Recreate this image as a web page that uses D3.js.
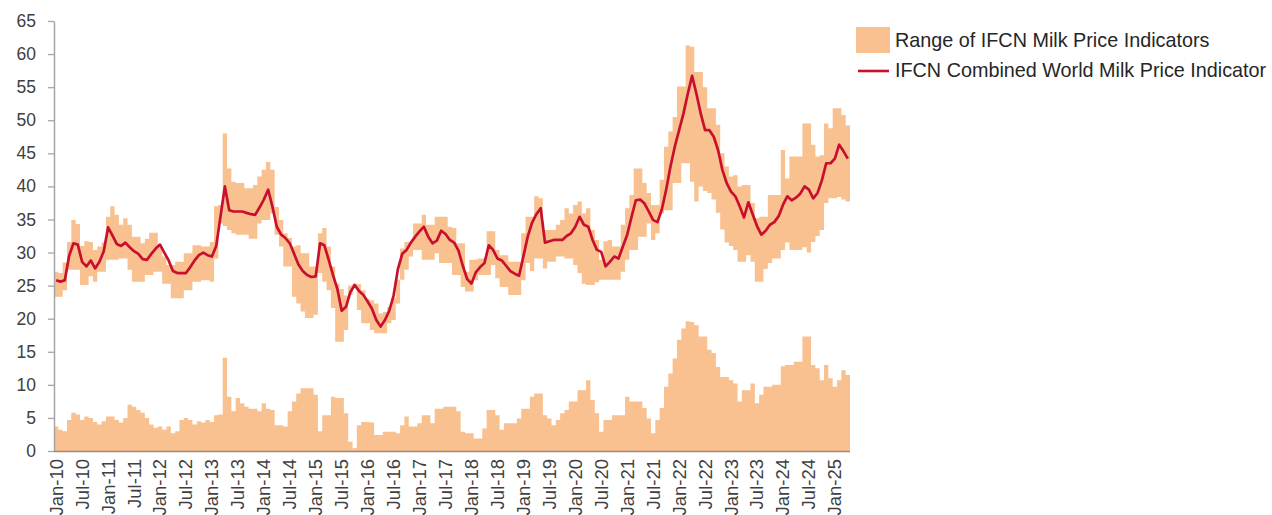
<!DOCTYPE html>
<html><head><meta charset="utf-8">
<script src="https://cdn.jsdelivr.net/npm/d3@7"></script>
<style>body{margin:0;background:#fff}svg{display:block}</style>
</head><body>
<svg id="chart" width="1272" height="515"></svg>
<script>
// ---- categories: monthly, Jan-10 .. Apr-25 (184 months)
const monthNames = ["Jan","Feb","Mar","Apr","May","Jun","Jul","Aug","Sep","Oct","Nov","Dec"];
const categories = [];
for (let yr = 2010; categories.length < 184; yr++)
  for (let m = 0; m < 12 && categories.length < 184; m++)
    categories.push(monthNames[m] + "-" + String(yr).slice(2));

// ---- IFCN Combined World Milk Price Indicator
const combinedIndicator = [
 25.8,25.6,25.8,29.5,31.4,31.2,28.6,27.9,28.8,27.6,28.6,30.2,
 33.8,32.6,31.3,31.0,31.5,30.8,30.2,29.8,29.0,28.9,29.8,30.6,
 31.2,30.0,28.8,27.2,26.9,26.9,26.9,27.8,28.8,29.6,30.0,29.6,
 29.4,31.0,35.5,40.0,36.4,36.2,36.2,36.2,36.0,35.8,35.7,36.8,
 38.0,39.5,36.9,33.9,32.7,32.2,31.4,29.8,28.2,27.2,26.6,26.3,
 26.4,31.4,31.1,28.9,26.6,24.5,21.2,21.8,24.0,25.1,24.2,23.6,
 22.6,21.5,19.8,18.8,19.8,21.2,23.5,27.5,29.8,30.4,31.5,32.4,
 33.2,33.9,32.4,31.4,31.8,33.3,32.8,31.9,31.5,30.3,28.0,26.0,
 25.3,27.0,27.8,28.4,31.1,30.4,29.1,28.8,28.0,27.2,26.8,26.5,
 29.4,32.4,34.5,35.8,36.7,31.5,31.7,31.9,31.9,31.9,32.5,32.9,
 33.9,35.4,34.2,33.9,31.9,30.4,30.1,27.9,28.6,29.4,29.1,30.9,
 32.7,35.4,37.9,38.0,37.4,36.2,34.9,34.6,36.5,39.5,43.0,46.0,
 48.5,51.0,54.0,56.7,54.0,51.0,48.5,48.5,47.5,45.5,42.5,40.5,
 39.2,38.5,37.0,35.3,37.6,35.8,34.0,32.7,33.3,34.2,34.6,35.5,
 37.2,38.5,37.9,38.3,38.9,40.0,39.5,38.2,39.0,40.9,43.5,43.5,
 44.2,46.3,45.3,44.2
];

// ---- Range of IFCN Milk Price Indicators: upper and lower bound
const rangeHigh = [
 27.1,26.9,28.5,31.6,34.9,34.3,31.0,31.7,31.6,30.4,30.9,31.5,
 35.4,37.0,35.7,34.2,35.2,34.2,32.4,32.4,31.4,32.1,33.0,33.0,
 31.1,29.4,28.1,28.1,28.6,28.6,29.9,29.9,31.1,31.1,30.9,30.9,
 31.6,37.0,37.2,48.0,42.7,40.7,40.5,40.5,39.7,39.7,40.2,41.5,
 42.5,43.7,42.5,36.9,34.9,32.9,32.2,30.9,31.1,29.9,29.9,27.9,
 27.9,32.9,33.7,30.9,27.9,25.3,24.5,23.5,25.0,25.3,25.2,24.3,
 23.0,22.8,22.3,20.8,21.0,21.8,23.1,25.9,30.6,31.6,31.6,34.4,
 34.4,35.7,34.2,34.2,35.4,35.4,35.4,33.9,33.7,31.4,31.4,27.1,
 28.9,28.9,29.1,29.1,33.2,33.2,30.4,29.6,29.6,28.6,28.6,28.6,
 32.9,35.4,35.4,38.5,38.2,33.4,33.4,33.4,34.2,34.9,36.7,35.9,
 37.2,37.7,35.9,36.7,33.4,31.9,28.9,31.7,31.9,30.9,30.9,34.2,
 36.7,38.7,42.7,42.7,40.5,39.0,37.2,37.2,41.0,46.0,48.3,50.5,
 55.1,55.1,61.3,61.1,57.3,57.3,55.0,51.8,51.8,49.3,45.0,43.0,
 41.5,41.7,40.0,40.2,40.2,37.5,35.2,35.4,35.4,38.7,38.7,38.7,
 45.5,41.2,44.5,44.5,44.5,49.5,49.5,46.3,44.5,44.7,49.5,48.8,
 51.8,51.8,50.8,49.2
];
const rangeLow = [
 23.3,23.3,24.3,27.4,27.4,27.4,25.1,25.1,26.4,25.6,27.1,27.1,
 28.9,28.9,28.9,29.1,29.1,27.4,25.6,25.6,25.6,26.6,26.6,27.1,
 27.1,25.3,25.3,23.1,23.1,23.1,24.3,24.3,25.6,25.6,25.8,25.8,
 25.6,29.1,34.4,34.0,33.4,32.9,32.7,32.7,32.7,32.1,32.1,34.4,
 34.9,34.9,35.9,32.7,30.9,27.9,27.9,23.3,22.3,21.1,20.1,20.1,
 20.6,26.9,25.6,24.3,21.6,16.5,16.5,18.3,23.6,24.9,21.3,19.3,
 19.3,18.3,17.8,17.8,17.8,19.3,19.8,22.3,25.9,27.4,29.4,30.4,
 30.4,28.9,28.9,28.9,29.9,28.4,28.4,28.4,26.6,26.6,24.8,24.1,
 24.1,25.8,26.6,26.6,26.6,28.1,26.1,24.8,24.8,23.6,23.6,23.6,
 25.8,28.4,27.2,29.1,29.1,27.6,28.6,28.6,29.4,29.4,29.1,29.1,
 28.1,26.9,25.3,25.1,25.1,25.5,25.9,25.9,25.9,25.9,25.9,27.1,
 28.9,30.4,30.4,32.4,32.4,34.4,31.9,32.9,35.9,36.4,36.4,40.5,
 40.5,43.5,43.5,40.7,37.7,40.0,39.3,39.0,38.0,36.0,33.5,31.5,
 31.0,30.4,28.6,28.6,29.6,28.6,25.6,25.6,27.5,28.4,29.1,29.1,
 30.4,31.5,30.4,30.4,30.4,30.8,30.0,31.6,32.5,33.4,37.5,38.2,
 38.2,38.4,38.0,37.7
];
// ---- width of the range (bottom columns)
const rangeWidth = [
 3.7,3.2,3.0,4.7,5.8,5.5,4.7,5.2,5.0,4.4,4.0,4.5,
 5.2,5.2,4.7,4.3,5.0,7.0,6.7,6.2,5.8,5.0,4.0,3.5,
 3.7,3.2,3.7,2.7,3.0,4.7,5.0,4.7,4.0,4.5,4.3,4.7,
 4.4,5.4,5.5,14.1,8.2,6.0,8.0,7.2,6.7,6.4,6.4,6.0,
 7.2,6.4,6.2,3.9,3.9,3.7,6.0,7.5,8.7,9.5,9.5,9.5,
 8.5,3.0,5.4,5.4,8.2,8.0,8.0,5.7,1.4,0.4,3.9,4.4,
 4.4,4.3,2.4,2.4,2.9,2.9,2.9,2.7,3.9,5.2,3.7,3.7,
 4.2,5.4,5.4,4.2,6.4,6.4,6.7,6.7,6.7,6.0,2.9,2.7,
 2.7,1.9,1.9,3.4,6.2,6.2,5.4,3.2,4.2,4.2,4.2,4.9,
 6.4,6.4,8.2,8.7,8.7,5.4,4.9,3.9,4.7,5.7,6.2,7.5,
 7.5,9.2,9.2,10.7,7.7,5.7,2.9,4.7,4.7,5.4,5.4,5.4,
 8.2,7.5,7.5,7.5,6.5,4.9,2.7,4.7,6.5,9.7,11.7,14.0,
 16.8,18.5,19.6,19.5,19.0,17.3,17.3,15.3,14.8,12.7,11.2,11.2,
 10.7,10.2,7.5,9.2,9.2,10.2,7.2,8.5,9.7,9.7,10.0,10.0,
 12.8,13.0,13.0,13.5,13.5,17.3,17.3,13.0,12.5,10.7,13.0,11.0,
 9.7,10.7,12.2,11.5
];

const xTickLabels = ["Jan-10","Jul-10","Jan-11","Jul-11","Jan-12","Jul-12","Jan-13","Jul-13",
 "Jan-14","Jul-14","Jan-15","Jul-15","Jan-16","Jul-16","Jan-17","Jul-17","Jan-18","Jul-18",
 "Jan-19","Jul-19","Jan-20","Jul-20","Jan-21","Jul-21","Jan-22","Jul-22","Jan-23","Jul-23",
 "Jan-24","Jul-24","Jan-25"];
const yTickValues = [0,5,10,15,20,25,30,35,40,45,50,55,60,65];
const legendLabels = ["Range of IFCN Milk Price Indicators","IFCN Combined World Milk Price Indicator"];

// ---- drawing
const bandColor = "#F9C090", lineColor = "#C8102E", axisColor = "#A6A6A6", textColor = "#404040";
const font = "'Liberation Sans', Arial, sans-serif";
const svg = d3.select("#chart");
const plotLeft = 54, plotRight = 850, plotTop = 21, plotBottom = 451;

const x = d3.scaleBand().domain(categories).range([plotLeft, plotRight]).padding(0);
const y = d3.scaleLinear().domain([0, 65]).range([plotBottom, plotTop]);
const bw = x.bandwidth();

const rows = categories.map((c, i) => ({c, hi: rangeHigh[i], lo: rangeLow[i], w: rangeWidth[i], v: combinedIndicator[i]}));
// each month column becomes two points (start and end of its band) so the areas are stepped
const steps = rows.flatMap(d => [{px: x(d.c), d}, {px: x(d.c) + bw, d}]);

svg.append("path").datum(steps)
  .attr("fill", bandColor)
  .attr("d", d3.area().x(p => p.px).y0(p => y(p.d.lo)).y1(p => y(p.d.hi)));

svg.append("path").datum(steps)
  .attr("fill", bandColor)
  .attr("d", d3.area().x(p => p.px).y0(y(0)).y1(p => y(p.d.w)));

svg.append("path").datum(rows)
  .attr("fill", "none").attr("stroke", lineColor).attr("stroke-width", 2.7)
  .attr("stroke-linejoin", "round")
  .attr("d", d3.line().x(d => x(d.c) + bw / 2).y(d => y(d.v)));

// y axis
const yAxis = svg.append("g").attr("transform", `translate(${plotLeft},0)`)
  .call(d3.axisLeft(y).tickValues(yTickValues).tickSize(6).tickPadding(12).tickSizeOuter(0));
yAxis.select(".domain").attr("stroke", axisColor).attr("stroke-width", 1.5);
yAxis.selectAll(".tick line").attr("stroke", axisColor).attr("stroke-width", 1.3);
yAxis.selectAll("text").attr("fill", textColor).style("font-family", font).style("font-size", "17.5px");

// x axis
svg.append("line").attr("x1", plotLeft).attr("x2", plotRight).attr("y1", plotBottom + 0.5).attr("y2", plotBottom + 0.5)
  .attr("stroke", "#9E8A78").attr("stroke-width", 1.5);
svg.append("g").selectAll("text").data(xTickLabels).join("text")
  .attr("transform", d => `translate(${x(d) + bw / 2},${plotBottom + 8}) rotate(-90)`)
  .attr("text-anchor", "end").attr("dy", "0.35em")
  .attr("fill", textColor).style("font-family", font).style("font-size", "18.5px")
  .text(d => d);

// legend
const lg = svg.append("g");
lg.append("rect").attr("x", 856).attr("y", 27).attr("width", 34).attr("height", 26).attr("fill", bandColor);
lg.append("line").attr("x1", 858).attr("x2", 889).attr("y1", 71).attr("y2", 71)
  .attr("stroke", lineColor).attr("stroke-width", 2.6);
lg.selectAll("text").data(legendLabels).join("text")
  .attr("x", 895).attr("y", (d, i) => 47 + i * 30)
  .attr("fill", "#262626").style("font-family", font).style("font-size", "19.8px")
  .text(d => d);
</script>
</body></html>
